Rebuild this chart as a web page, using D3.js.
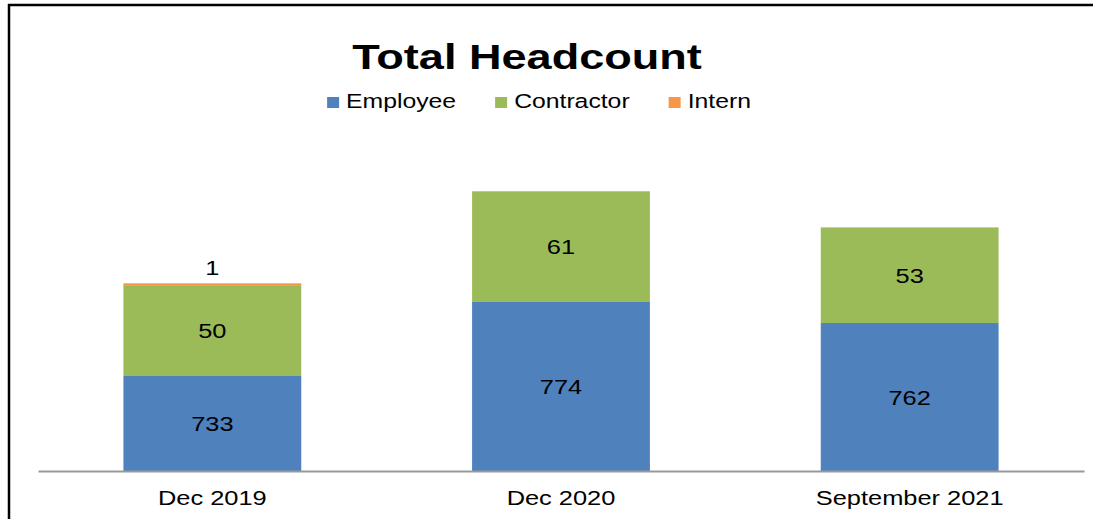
<!DOCTYPE html>
<html>
  <style>
    body { margin: 0; background: #fff; }
    text { font-family: "Liberation Sans", Arial, sans-serif; fill: #000; }
  </style>
  <body>
    <div id="chart"></div>
  </body>
  <script src="https://d3js.org/d3.v7.min.js"></script>
  <script>
    // Chart data
    const CATEGORIES = ['Dec 2019', 'Dec 2020', 'September 2021'];
    const SERIES = ['Employee', 'Contractor', 'Intern'];
    const EMPLOYEE = [733, 774, 762];
    const CONTRACTOR = [50, 61, 53];
    const INTERN = [1, 0, 0];
    const COLORS = ['#4F81BD', '#9BBB59', '#F79646'];

    var WIDTH = 1093, HEIGHT = 519;
    var SX = 1.27; // the source picture is stretched sideways

    var svg = d3.select('#chart').append('svg')
      .attr('width', WIDTH)
      .attr('height', HEIGHT);

    // Frame (left and top edges only are visible)
    svg.append('line').attr('x1', 9).attr('x2', 9).attr('y1', 4).attr('y2', HEIGHT)
      .style('stroke', '#000').style('stroke-width', 2.5);
    svg.append('line').attr('x1', 8).attr('x2', WIDTH).attr('y1', 5).attr('y2', 5)
      .style('stroke', '#000').style('stroke-width', 2.5);

    // Scales
    var x = d3.scaleBand().domain(CATEGORIES).range([38, 1084])
      .paddingInner(0.49).paddingOuter(0.245);
    var y = d3.scaleLinear().domain([680, 900]).range([471, 74]);
    var color = d3.scaleOrdinal().domain(SERIES).range(COLORS);

    // Stack the series
    var rows = CATEGORIES.map(function (c, i) {
      return { cat: c, Employee: EMPLOYEE[i], Contractor: CONTRACTOR[i], Intern: INTERN[i] };
    });
    var stacked = d3.stack().keys(SERIES)(rows);

    // Bars
    var layers = svg.selectAll('g.layer')
      .data(stacked)
      .enter()
      .append('g')
      .attr('class', 'layer')
      .style('fill', function (d) { return color(d.key); });

    layers.selectAll('rect')
      .data(function (d) { return d.filter(function (s) { return s[1] > s[0]; }); })
      .enter()
      .append('rect')
      .attr('x', function (d) { return x(d.data.cat); })
      .attr('width', x.bandwidth())
      .attr('y', function (d) { return y(d[1]); })
      .attr('height', function (d) { return Math.max(y(Math.max(d[0], 680)) - y(d[1]), 2); });

    // Axis
    var axis = svg.append('g')
      .attr('transform', 'translate(0,471)')
      .call(d3.axisBottom(x).tickSize(0));
    axis.select('.domain').style('stroke', '#999').style('stroke-width', 2);
    axis.selectAll('text')
      .attr('y', 34).attr('dy', null)
      .attr('transform', 'scale(' + SX + ',1)')
      .style('font-size', '20px')
      .style('font-family', '"Liberation Sans", Arial, sans-serif')
      .style('fill', '#000');

    // Helper for stretched text
    function stretched(px, py, txt, size, weight, anchor) {
      return svg.append('text')
        .attr('transform', 'translate(' + px + ',' + py + ') scale(' + SX + ',1)')
        .attr('text-anchor', anchor || 'middle')
        .style('font-size', size + 'px')
        .style('font-weight', weight || 'normal')
        .text(txt);
    }

    // Data labels
    stacked.forEach(function (layer) {
      layer.forEach(function (d) {
        var v = d[1] - d[0];
        if (v <= 0) return;
        var cx = x(d.data.cat) + x.bandwidth() / 2;
        var cy;
        if (layer.key === 'Intern') cy = y(d[1]) - 16;
        else cy = (y(Math.max(d[0], 680)) + y(d[1])) / 2;
        stretched(cx, cy + 8, v, 20);
      });
    });

    // Title
    stretched(527, 69, 'Total Headcount', 35.5, 'bold');

    // Legend
    var legend = svg.append('g');
    var lx = 0;
    SERIES.forEach(function (s, i) {
      legend.append('rect')
        .attr('x', lx).attr('y', 97)
        .attr('width', 12).attr('height', 11)
        .style('fill', color(s));
      var t = legend.append('text')
        .attr('transform', 'translate(' + (lx + 19) + ',108) scale(' + SX + ',1)')
        .style('font-size', '19.5px')
        .text(s);
      lx += 19 + t.node().getComputedTextLength() * SX;
      if (i < SERIES.length - 1) lx += 39;
    });
    legend.attr('transform', 'translate(' + (539 - lx / 2) + ',0)');
  </script>
</html>
